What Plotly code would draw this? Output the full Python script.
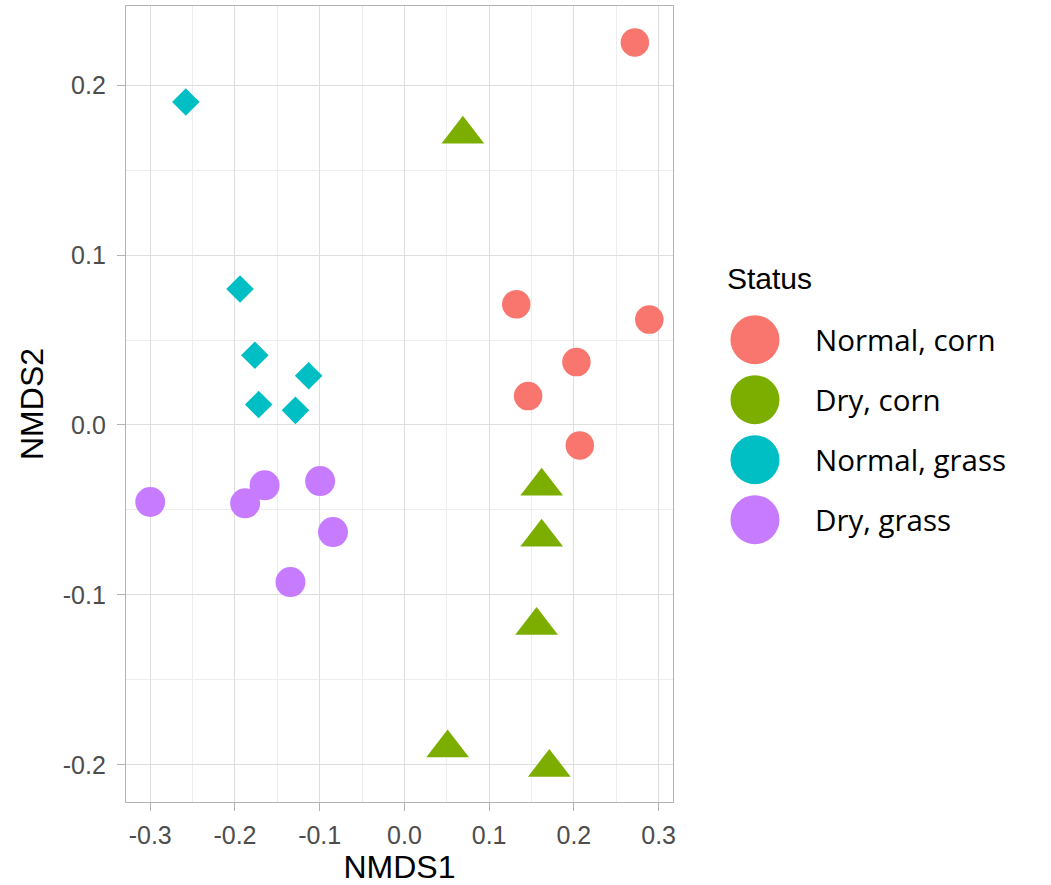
import plotly.graph_objects as go

# ---- data ----
categories = ["Normal, corn", "Dry, corn", "Normal, grass", "Dry, grass"]
colors = ["#F8766D", "#7CAE00", "#00BFC4", "#C77CFF"]
symbols = ["circle", "triangle-up", "diamond", "circle"]
marker_sizes = [28.5, 37, 21.2, 30]

normal_corn_x = [0.272, 0.289, 0.203, 0.146, 0.207, 0.132]
normal_corn_y = [0.225, 0.062, 0.037, 0.017, -0.012, 0.071]
dry_corn_x = [0.069, 0.162, 0.162, 0.156, 0.051, 0.171]
dry_corn_y = [0.171, -0.036, -0.066, -0.118, -0.190, -0.2015]
normal_grass_x = [-0.258, -0.194, -0.1765, -0.113, -0.172, -0.1286]
normal_grass_y = [0.190, 0.080, 0.041, 0.029, 0.012, 0.0086]
dry_grass_x = [-0.300, -0.188, -0.165, -0.0995, -0.0843, -0.1345]
dry_grass_y = [-0.0453, -0.0461, -0.0355, -0.033, -0.063, -0.0924]

xs = [normal_corn_x, dry_corn_x, normal_grass_x, dry_grass_x]
ys = [normal_corn_y, dry_corn_y, normal_grass_y, dry_grass_y]

x_ticks = [-0.3, -0.2, -0.1, 0.0, 0.1, 0.2, 0.3]
y_ticks = [-0.2, -0.1, 0.0, 0.1, 0.2]

# ---- layout geometry (pixels) ----
W, H = 1051, 885
ML, MT, MB = 126, 6.3, 82.7
plot_right = 674.7
paper_w = W - ML
main_dom = (plot_right - ML) / paper_w

fig = go.Figure()
for i, cat in enumerate(categories):
    fig.add_trace(go.Scatter(
        x=xs[i], y=ys[i], mode="markers", name=cat, showlegend=False,
        marker=dict(symbol=symbols[i], color=colors[i], size=marker_sizes[i],
                    line=dict(width=0)),
        xaxis="x", yaxis="y"))

# ---- custom legend (big round keys, as in the reference) ----
leg_left_px = 700
key_cx, text_x_px = 757, 815.5
first_row_px, row_gap = 340, 60
plot_top, plot_bot = MT, H - MB
x2_range = [(leg_left_px - key_cx) / (text_x_px - key_cx), (W - key_cx) / (text_x_px - key_cx)]
y2_range = [(plot_bot - first_row_px) / row_gap, (plot_top - first_row_px) / row_gap]
rows = list(range(len(categories)))

fig.add_trace(go.Scatter(
    x=[0] * len(categories), y=rows, mode="markers", showlegend=False,
    marker=dict(color=colors, size=49, symbol="circle", line=dict(width=0)),
    hoverinfo="skip", xaxis="x2", yaxis="y2"))

annotations = []
for i, cat in enumerate(categories):
    annotations.append(dict(x=1, y=i, xref="x2", yref="y2", text=cat, showarrow=False,
                            xanchor="left", yanchor="middle",
                            font=dict(family="Open Sans", size=29.5, color="black")))
annotations.append(dict(x=(727 - key_cx) / (text_x_px - key_cx), y=-1.02, xref="x2", yref="y2",
                        text="Status", showarrow=False, xanchor="left", yanchor="middle",
                        font=dict(family="Liberation Sans", size=30, color="black")))

axis_common = dict(
    showline=True, linecolor="#B3B3B3", linewidth=1.3, mirror=True,
    ticks="outside", ticklen=8, tickcolor="#B3B3B3", tickwidth=1.3,
    showgrid=True, gridcolor="#DEDEDE", gridwidth=1.3, zeroline=False,
    tickfont=dict(family="Liberation Sans", size=25, color="#4D4D4D"),
)

fig.update_layout(
    width=W, height=H,
    margin=dict(l=ML, r=0, t=MT, b=MB, pad=0),
    paper_bgcolor="white", plot_bgcolor="white",
    showlegend=False,
    xaxis=dict(domain=[0, main_dom], range=[-0.3286, 0.3169], tickvals=x_ticks,
               ticktext=[f"{v:.1f}" for v in x_ticks],
               minor=dict(dtick=0.05, tick0=0, showgrid=True, gridcolor="#EDEDED", gridwidth=1, ticks=""),
               title=dict(text="NMDS1", font=dict(family="Liberation Sans", size=32, color="black"), standoff=10),
               ticklabelstandoff=3, **axis_common),
    yaxis=dict(domain=[0, 1], range=[-0.2218, 0.2465], tickvals=y_ticks,
               ticktext=[f"{v:.1f}" for v in y_ticks],
               minor=dict(dtick=0.05, tick0=0, showgrid=True, gridcolor="#EDEDED", gridwidth=1, ticks=""),
               title=dict(text="NMDS2", font=dict(family="Liberation Sans", size=32, color="black"), standoff=9),
               ticklabelstandoff=6, **axis_common),
    xaxis2=dict(domain=[(leg_left_px - ML) / paper_w, 1], range=x2_range, visible=False, fixedrange=True),
    yaxis2=dict(domain=[0, 1], range=y2_range, visible=False, fixedrange=True, anchor="x2"),
    annotations=annotations,
)
fig.update_layout(xaxis2_anchor="y2")

fig.write_html("out.html")
